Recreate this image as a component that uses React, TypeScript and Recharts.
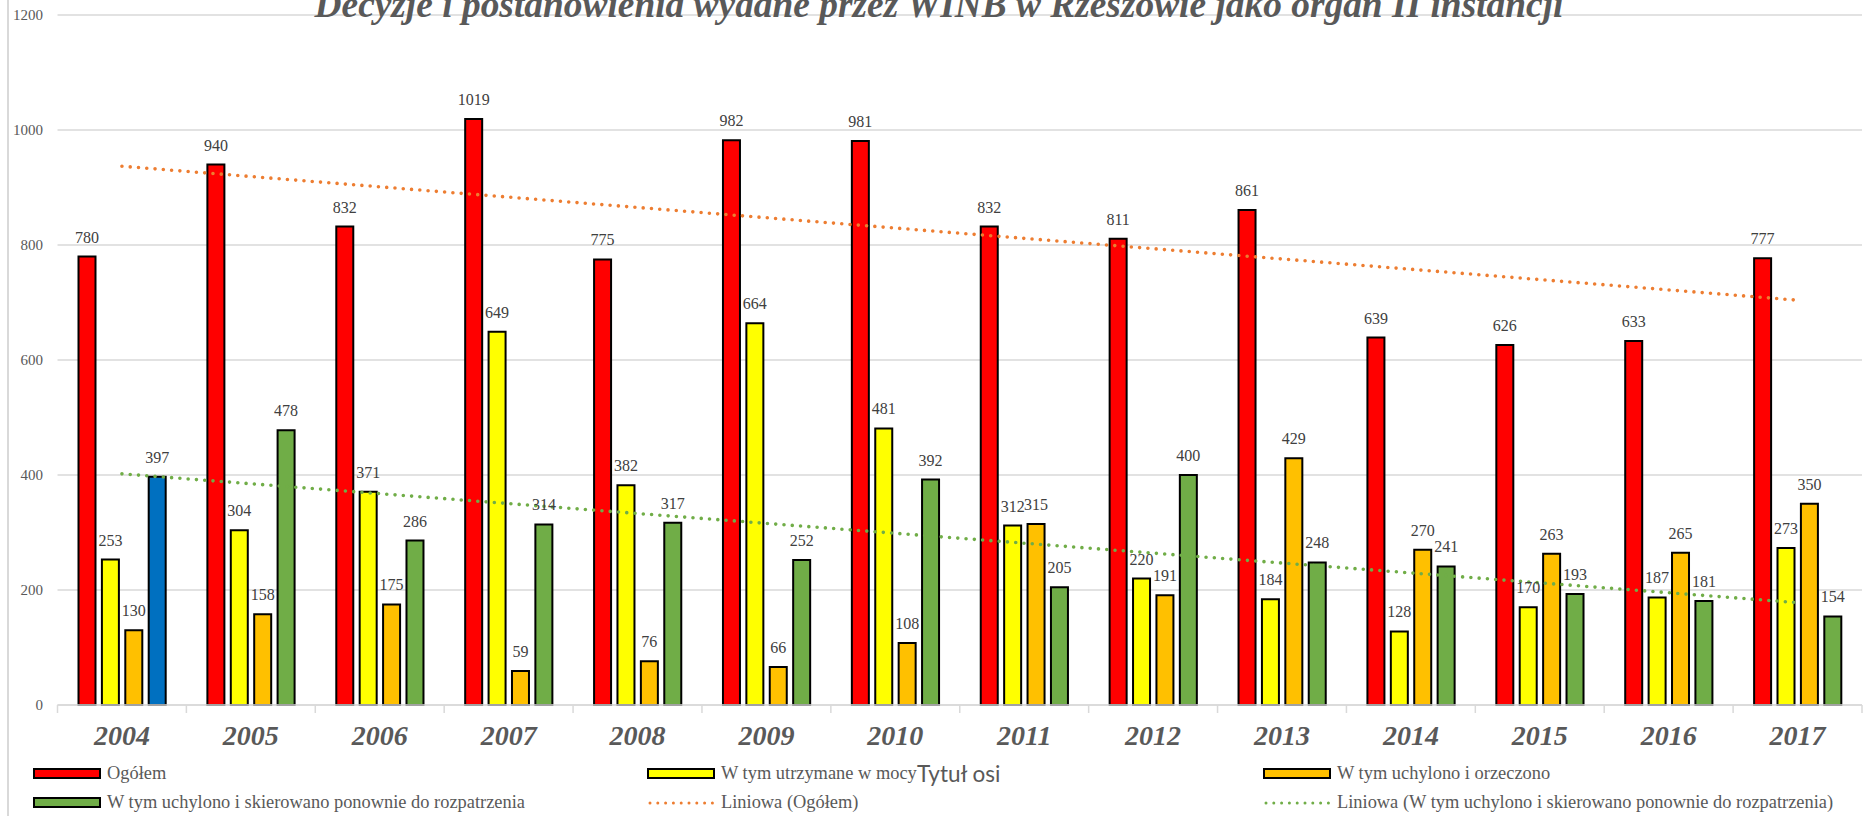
import { Bar, CartesianGrid, Cell, ComposedChart, LabelList, Line, XAxis, YAxis } from "recharts";

const years = ["2004", "2005", "2006", "2007", "2008", "2009", "2010", "2011", "2012", "2013", "2014", "2015", "2016", "2017"];
const total = [780, 940, 832, 1019, 775, 982, 981, 832, 811, 861, 639, 626, 633, 777];
const upheld = [253, 304, 371, 649, 382, 664, 481, 312, 220, 184, 128, 170, 187, 273];
const annulledDecided = [130, 158, 175, 59, 76, 66, 108, 315, 191, 429, 270, 263, 265, 350];
const annulledReturned = [397, 478, 286, 314, 317, 252, 392, 205, 400, 248, 241, 193, 181, 154];
// trendline end points
const totalTrend = [937, null, null, null, null, null, null, null, null, null, null, null, null, 704];
const returnedTrend = [402, null, null, null, null, null, null, null, null, null, null, null, null, 178];
const yTicks = [0, 200, 400, 600, 800, 1000, 1200];

const data = years.map((year, i) => ({
  year,
  total: total[i],
  upheld: upheld[i],
  annulledDecided: annulledDecided[i],
  annulledReturned: annulledReturned[i],
  totalTrend: totalTrend[i],
  returnedTrend: returnedTrend[i],
}));

const W = 1870;
const H = 816;
const PLOT_LEFT = 57.5;
const PLOT_RIGHT = 8;
const BAND = (W - PLOT_LEFT - PLOT_RIGHT) / years.length;

const SERIF = "'Liberation Serif', 'Times New Roman', serif";
const GRID = "#D9D9D9";

const labelProps = {
  position: "top" as const,
  offset: 14,
  fill: "#404040",
  fontSize: 16,
  fontFamily: SERIF,
};

function YearTick(props: any) {
  const { x, y, payload, index } = props;
  const half = BAND / 2;
  return (
    <g>
      <line x1={x - half} x2={x - half} y1={y} y2={y + 8} stroke={GRID} strokeWidth={1.5} />
      {index === years.length - 1 && (
        <line x1={x + half} x2={x + half} y1={y} y2={y + 8} stroke={GRID} strokeWidth={1.5} />
      )}
      <text
        x={x}
        y={y + 40}
        textAnchor="middle"
        fill="#595959"
        fontFamily={SERIF}
        fontSize={28}
        fontWeight="bold"
        fontStyle="italic"
      >
        {payload.value}
      </text>
    </g>
  );
}

type LegendItem = { label: string; color: string; kind: "bar" | "dots" };

const legendRows: LegendItem[][] = [
  [
    { label: "Ogółem", color: "#FF0000", kind: "bar" },
    { label: "W tym utrzymane w mocy", color: "#FFFF00", kind: "bar" },
    { label: "W tym uchylono i orzeczono", color: "#FFC000", kind: "bar" },
  ],
  [
    { label: "W tym uchylono i skierowano ponownie do rozpatrzenia", color: "#70AD47", kind: "bar" },
    { label: "Liniowa (Ogółem)", color: "#ED7D31", kind: "dots" },
    { label: "Liniowa (W tym uchylono i skierowano ponownie do rozpatrzenia)", color: "#70AD47", kind: "dots" },
  ],
];

const legendCols = [33, 647, 1263];
const legendRowTop = [763, 792];

function LegendSwatch({ item }: { item: LegendItem }) {
  if (item.kind === "bar") {
    return (
      <span
        style={{
          display: "inline-block",
          boxSizing: "border-box",
          width: 68,
          height: 11,
          background: item.color,
          border: "2px solid #000",
          marginRight: 6,
        }}
      />
    );
  }
  return (
    <svg width={68} height={11} style={{ marginRight: 6 }}>
      <line x1={3} x2={66} y1={6} y2={6} stroke={item.color} strokeWidth={3} strokeDasharray="0 7.8" strokeLinecap="round" />
    </svg>
  );
}

export default function App() {
  return (
    <div style={{ position: "relative", width: W, height: H, overflow: "hidden", background: "#fff" }}>
      <style>{`body{margin:0}`}</style>
      <div style={{ position: "absolute", left: 7, top: 0, width: 1.5, height: H, background: GRID }} />

      <ComposedChart
        width={W}
        height={H}
        data={data}
        margin={{ top: 15, right: PLOT_RIGHT, left: 0, bottom: 0 }}
        barGap={6.4}
        style={{ fontFamily: SERIF }}
      >
        <CartesianGrid vertical={false} stroke={GRID} strokeWidth={1.5} />
        <XAxis
          dataKey="year"
          height={111}
          tickLine={false}
          tickSize={0}
          tickMargin={0}
          axisLine={{ stroke: GRID, strokeWidth: 1.5 }}
          tick={<YearTick />}
          interval={0}
        />
        <YAxis
          width={PLOT_LEFT}
          domain={[0, 1200]}
          ticks={yTicks}
          axisLine={false}
          tickLine={false}
          tickSize={14.5}
          tickMargin={0}
          tick={{ fill: "#595959", fontSize: 15, fontFamily: SERIF }}
        />
        <Bar dataKey="total" fill="#FF0000" stroke="#000" strokeWidth={2} barSize={17} isAnimationActive={false}>
          <LabelList dataKey="total" {...labelProps} />
        </Bar>
        <Bar dataKey="upheld" fill="#FFFF00" stroke="#000" strokeWidth={2} barSize={17} isAnimationActive={false}>
          <LabelList dataKey="upheld" {...labelProps} />
        </Bar>
        <Bar dataKey="annulledDecided" fill="#FFC000" stroke="#000" strokeWidth={2} barSize={17} isAnimationActive={false}>
          <LabelList dataKey="annulledDecided" {...labelProps} />
        </Bar>
        <Bar dataKey="annulledReturned" fill="#70AD47" stroke="#000" strokeWidth={2} barSize={17} isAnimationActive={false}>
          {data.map((d, i) => (
            <Cell key={d.year} fill={i === 0 ? "#0070C0" : "#70AD47"} />
          ))}
          <LabelList dataKey="annulledReturned" {...labelProps} />
        </Bar>
        <Line
          type="linear"
          dataKey="totalTrend"
          connectNulls
          dot={false}
          activeDot={false}
          stroke="#ED7D31"
          strokeWidth={3.6}
          strokeDasharray="0 8.3"
          strokeLinecap="round"
          isAnimationActive={false}
        />
        <Line
          type="linear"
          dataKey="returnedTrend"
          connectNulls
          dot={false}
          activeDot={false}
          stroke="#70AD47"
          strokeWidth={3.6}
          strokeDasharray="0 8.3"
          strokeLinecap="round"
          isAnimationActive={false}
        />
      </ComposedChart>

      <div
        style={{
          position: "absolute",
          left: 8,
          top: -14,
          width: W - 8,
          textAlign: "center",
          fontFamily: SERIF,
          fontSize: 37.4,
          lineHeight: 1,
          fontWeight: "bold",
          fontStyle: "italic",
          color: "#595959",
          whiteSpace: "nowrap",
        }}
      >
        Decyzje i postanowienia wydane przez WINB w Rzeszowie jako organ II instancji
      </div>

      {legendRows.map((row, r) =>
        row.map((item, c) => (
          <div
            key={item.label}
            style={{
              position: "absolute",
              left: legendCols[c],
              top: legendRowTop[r],
              display: "flex",
              alignItems: "center",
              fontFamily: SERIF,
              fontSize: 18.4,
              lineHeight: "21px",
              color: "#595959",
              whiteSpace: "nowrap",
            }}
          >
            <LegendSwatch item={item} />
            {item.label}
          </div>
        ))
      )}

      <div
        style={{
          position: "absolute",
          left: 917,
          top: 759,
          fontFamily: "Lato, 'Open Sans', sans-serif",
          fontSize: 22.5,
          lineHeight: "30px",
          color: "#595959",
          whiteSpace: "nowrap",
        }}
      >
        Tytuł osi
      </div>
    </div>
  );
}
